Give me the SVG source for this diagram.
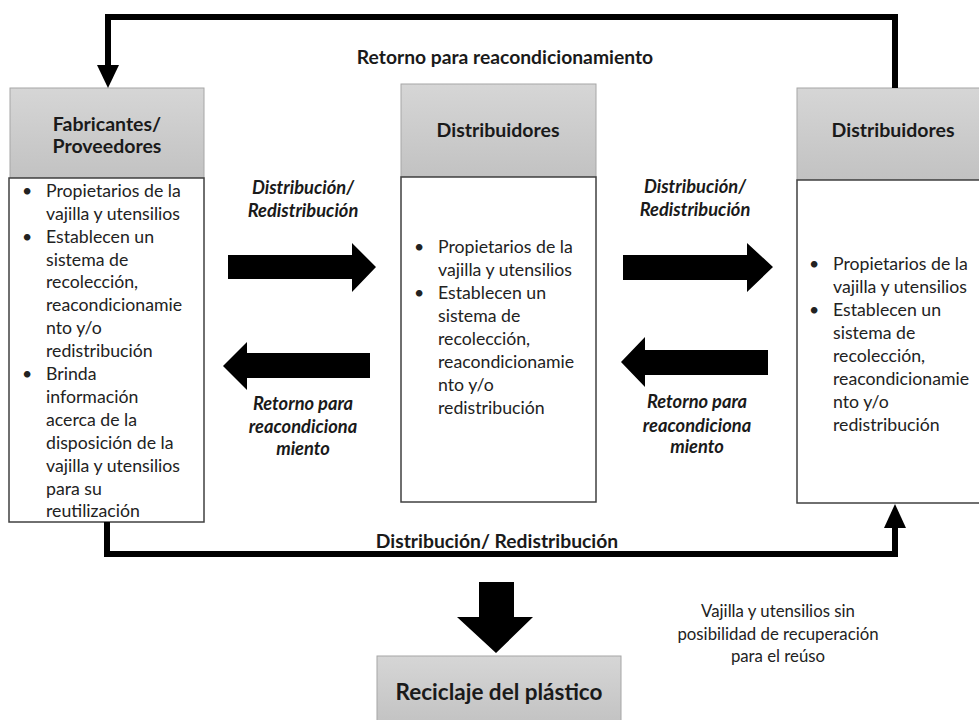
<svg xmlns="http://www.w3.org/2000/svg" width="979" height="720" viewBox="0 0 979 720">
<style>
.hdr{stroke:#a6a6a6;stroke-width:1;fill:url(#g)}
.body{fill:#fff;stroke:#404040;stroke-width:1.5}
.ht{font-family:Lato,"Liberation Sans",sans-serif;font-weight:bold;font-size:19.5px;fill:#1a1a1a;text-anchor:middle}
.bt{font-family:Lato,"Liberation Sans",sans-serif;font-size:17.7px;fill:#222}
.lab{font-family:Lato,"Liberation Sans",sans-serif;font-weight:bold;font-style:italic;font-size:18.3px;fill:#1a1a1a;text-anchor:middle}
.cl{font-family:Lato,"Liberation Sans",sans-serif;font-weight:bold;font-size:19.3px;fill:#1a1a1a;text-anchor:middle}
.note{font-family:Lato,"Liberation Sans",sans-serif;font-size:16.8px;fill:#222;text-anchor:middle}
.ln{fill:none;stroke:#000;stroke-width:6;stroke-linejoin:miter}
.ah{fill:#000}
</style>
<defs>
<linearGradient id="g" x1="0" y1="0" x2="0" y2="1">
<stop offset="0" stop-color="#d6d6d6"/>
<stop offset="1" stop-color="#c2c2c2"/>
</linearGradient>
</defs>
<rect width="979" height="720" fill="#fff"/>

<g id="fabricantes">
<rect class="hdr" x="10" y="88" width="194" height="90"/>
<text class="ht" x="107" y="131">Fabricantes/</text>
<text class="ht" x="107" y="153">Proveedores</text>
<rect class="body" x="9" y="178" width="195" height="344"/>
<g class="bt">
<text x="22" y="197">•</text>
<text x="46" y="197">Propietarios de la</text>
<text x="46" y="220">vajilla y utensilios</text>
<text x="22" y="243">•</text>
<text x="46" y="243">Establecen un</text>
<text x="46" y="266">sistema de</text>
<text x="46" y="288">recolección,</text>
<text x="46" y="311">reacondicionamie</text>
<text x="46" y="334">nto y/o</text>
<text x="46" y="357">redistribución</text>
<text x="22" y="380">•</text>
<text x="46" y="380">Brinda</text>
<text x="46" y="403">información</text>
<text x="46" y="426">acerca de la</text>
<text x="46" y="449">disposición de la</text>
<text x="46" y="472">vajilla y utensilios</text>
<text x="46" y="495">para su</text>
<text x="46" y="517">reutilización</text>
</g>
</g>

<g id="distribuidores1">
<rect class="hdr" x="401" y="84" width="195" height="93"/>
<text class="ht" x="498" y="137">Distribuidores</text>
<rect class="body" x="401" y="177" width="195" height="325"/>
<g class="bt">
<text x="414" y="253">•</text>
<text x="438" y="253">Propietarios de la</text>
<text x="438" y="276">vajilla y utensilios</text>
<text x="414" y="299">•</text>
<text x="438" y="299">Establecen un</text>
<text x="438" y="322">sistema de</text>
<text x="438" y="345">recolección,</text>
<text x="438" y="368">reacondicionamie</text>
<text x="438" y="391">nto y/o</text>
<text x="438" y="414">redistribución</text>
</g>
</g>

<g id="distribuidores2">
<rect class="hdr" x="797" y="88" width="195" height="92"/>
<text class="ht" x="893" y="137">Distribuidores</text>
<rect class="body" x="797" y="180" width="195" height="323"/>
<g class="bt">
<text x="809" y="270">•</text>
<text x="833" y="270">Propietarios de la</text>
<text x="833" y="293">vajilla y utensilios</text>
<text x="809" y="316">•</text>
<text x="833" y="316">Establecen un</text>
<text x="833" y="339">sistema de</text>
<text x="833" y="362">recolección,</text>
<text x="833" y="385">reacondicionamie</text>
<text x="833" y="408">nto y/o</text>
<text x="833" y="431">redistribución</text>
</g>
</g>

<g id="reciclaje">
<rect class="hdr" x="377" y="656" width="244" height="70"/>
<text class="ht" x="499" y="700" style="font-size:22.5px">Reciclaje del plástico</text>
</g>

<g id="connectors">
<path class="ln" d="M895,88 V17 H108 V66"/>
<polygon class="ah" points="97,65 119,65 108,88"/>
<path class="ln" d="M107,522 V554 H895 V527"/>
<polygon class="ah" points="884,528 906,528 895,504"/>
<polygon class="ah" points="228,255 352,255 352,243 376,267 352,292 352,279 228,279"/>
<polygon class="ah" points="370,353 247,353 247,342 223,366 247,390 247,378 370,378"/>
<polygon class="ah" points="623,255 747,255 747,243 773,267 747,292 747,280 623,280"/>
<polygon class="ah" points="768,350 645,350 645,337 621,362 645,387 645,375 768,375"/>
<polygon class="ah" points="479,582 514,582 514,617 533,617 496,653 457,617 479,617"/>
<text class="cl" x="505" y="64">Retorno para reacondicionamiento</text>
<text class="cl" x="497" y="548">Distribución/ Redistribución</text>
<text class="lab" x="303" y="194">Distribución/</text>
<text class="lab" x="303" y="217">Redistribución</text>
<text class="lab" x="303" y="410">Retorno para</text>
<text class="lab" x="303" y="433">reacondiciona</text>
<text class="lab" x="303" y="455">miento</text>
<text class="lab" x="695" y="193">Distribución/</text>
<text class="lab" x="695" y="216">Redistribución</text>
<text class="lab" x="697" y="408">Retorno para</text>
<text class="lab" x="697" y="432">reacondiciona</text>
<text class="lab" x="697" y="453">miento</text>
<text class="note" x="778" y="617">Vajilla y utensilios sin</text>
<text class="note" x="778" y="640">posibilidad de recuperación</text>
<text class="note" x="778" y="662">para el reúso</text>
</g>
</svg>
